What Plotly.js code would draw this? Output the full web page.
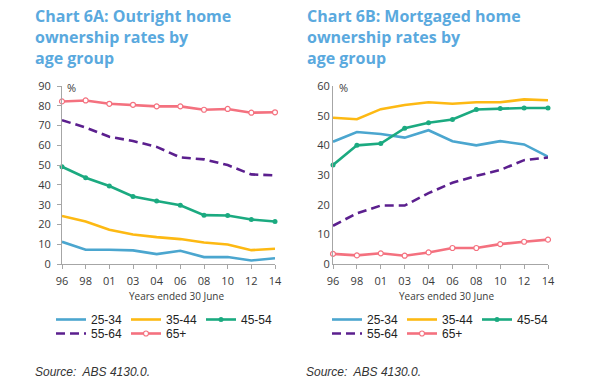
<!DOCTYPE html>
<html><head><meta charset="utf-8">
<script src="https://cdn.plot.ly/plotly-3.0.1.min.js"></script>
<style>html,body{margin:0;padding:0;background:#fff}</style>
</head><body><div id="chart" style="width:600px;height:384px"></div>
<script>
// ---- data ----
const years = ['96','98','01','03','04','06','08','10','12','14'];
const ageGroups = ['25-34','35-44','45-54','55-64','65+'];
// Chart 6A: outright home ownership (%)
const outright_25_34 = [11.2, 7.2, 7.2, 6.9, 5.0, 6.7, 3.5, 3.5, 1.8, 2.9];
const outright_35_44 = [24.3, 21.5, 17.3, 14.9, 13.6, 12.6, 10.9, 9.9, 7.0, 7.7];
const outright_45_54 = [49.2, 43.6, 39.4, 34.1, 31.9, 29.7, 24.7, 24.5, 22.5, 21.5];
const outright_55_64 = [72.7, 69.0, 64.3, 62.2, 59.2, 53.9, 52.9, 50.0, 45.3, 44.8];
const outright_65p   = [82.2, 82.7, 81.0, 80.5, 79.7, 79.7, 78.0, 78.4, 76.5, 76.7];
// Chart 6B: mortgaged home ownership (%)
const mortgaged_25_34 = [41.2, 44.5, 43.8, 42.6, 45.1, 41.4, 40.0, 41.4, 40.3, 36.2];
const mortgaged_35_44 = [49.3, 48.8, 52.2, 53.6, 54.5, 54.0, 54.5, 54.5, 55.5, 55.2];
const mortgaged_45_54 = [33.4, 40.0, 40.6, 45.8, 47.6, 48.7, 52.1, 52.4, 52.6, 52.6];
const mortgaged_55_64 = [12.9, 17.1, 19.7, 19.7, 23.9, 27.4, 29.7, 31.7, 35.0, 35.9];
const mortgaged_65p   = [3.4, 2.9, 3.6, 2.8, 3.9, 5.4, 5.4, 6.7, 7.5, 8.2];
const titleA = 'Chart 6A: Outright home<br>ownership rates by<br>age group';
const titleB = 'Chart 6B: Mortgaged home<br>ownership rates by<br>age group';
const xTitle = 'Years ended 30 June';
const sourceText = 'Source:\u00a0 ABS 4130.0.';

// ---- styles ----
const W = 600, H = 384;
const px = v => v / W, py = v => 1 - v / H;
const styles = [
  {color:'#4BA6CF', dash:'solid', mode:'lines'},
  {color:'#FDB913', dash:'solid', mode:'lines'},
  {color:'#1BAA80', dash:'solid', mode:'lines+markers', marker:{size:5, color:'#1BAA80'}},
  {color:'#5B1F8E', dash:'9px,5px', mode:'lines'},
  {color:'#F4717F', dash:'solid', mode:'lines+markers', marker:{size:5, color:'#ffffff', line:{color:'#F4717F', width:1.2}}}
];
const leftData = [outright_25_34, outright_35_44, outright_45_54, outright_55_64, outright_65p];
const rightData = [mortgaged_25_34, mortgaged_35_44, mortgaged_45_54, mortgaged_55_64, mortgaged_65p];

const traces = [];
function addTraces(data, xa, ya, legA, legB) {
  data.forEach((vals, i) => {
    const s = styles[i];
    const t = {
      x: years, y: vals, name: ageGroups[i], type: 'scatter', mode: s.mode,
      xaxis: xa, yaxis: ya, legend: i < 3 ? legA : legB,
      line: {color: s.color, width: 2.6, dash: s.dash},
      cliponaxis: false, hoverinfo: 'skip'
    };
    if (s.marker) t.marker = s.marker;
    traces.push(t);
  });
}
addTraces(leftData, 'x', 'y', 'legend', 'legend2');
addTraces(rightData, 'x2', 'y2', 'legend3', 'legend4');

const tickFont = {family: 'Open Sans, sans-serif', size: 11, color: '#3a3a3a'};
const xBase = {
  type: 'category', categoryorder: 'array', categoryarray: years, range: [0, 9],
  showline: true, linecolor: '#a6a6a6', linewidth: 1, showgrid: false, zeroline: false,
  ticks: 'outside', ticklen: 4, tickcolor: '#a6a6a6', tickfont: tickFont, fixedrange: true,
  ticklabelstandoff: 3
};
const yBase = {
  showline: true, linecolor: '#a6a6a6', linewidth: 1, showgrid: false, zeroline: false,
  dtick: 10, tickfont: tickFont, fixedrange: true
};
const legBase = {orientation: 'h', entrywidth: 30, entrywidthmode: 'pixels', xanchor: 'left', yanchor: 'top',
  font: {family: 'Liberation Sans, Arial, sans-serif', size: 12, color: '#222'},
  bgcolor: 'rgba(0,0,0,0)', traceorder: 'normal', itemclick: false, itemdoubleclick: false};
const titleFont = {family: 'Open Sans, sans-serif', size: 16, color: '#5AA9DE', weight: 'bold'};
const labelFont = {family: 'Open Sans, sans-serif', size: 10, color: '#3a3a3a'};
const srcFont = {family: 'Liberation Sans, sans-serif', size: 12, color: '#333', style: 'italic'};

const layout = {
  width: W, height: H, autosize: false,
  margin: {l: 0, r: 0, t: 0, b: 0},
  paper_bgcolor: '#fff', plot_bgcolor: 'rgba(0,0,0,0)',
  xaxis: Object.assign({}, xBase, {domain: [px(62), px(275)], anchor: 'y'}),
  yaxis: Object.assign({}, yBase, {domain: [py(264), py(86)], range: [0, 90], anchor: 'x',
    ticks: 'outside', ticklen: 4, tickcolor: '#a6a6a6', ticklabelstandoff: 4}),
  xaxis2: Object.assign({}, xBase, {domain: [px(333), px(548)], anchor: 'y2'}),
  yaxis2: Object.assign({}, yBase, {domain: [py(264), py(86)], range: [0, 60], anchor: 'x2', ticks: ''}),
  legend:  Object.assign({}, legBase, {x: px(51), y: py(305)}),
  legend2: Object.assign({}, legBase, {x: px(51), y: py(319)}),
  legend3: Object.assign({}, legBase, {x: px(327), y: py(305)}),
  legend4: Object.assign({}, legBase, {x: px(327), y: py(319)}),
  showlegend: true,
  annotations: [
    {text: titleA, xref: 'paper', yref: 'paper', x: px(33), y: py(3), xanchor: 'left', yanchor: 'top', align: 'left', showarrow: false, font: titleFont},
    {text: titleB, xref: 'paper', yref: 'paper', x: px(305), y: py(3), xanchor: 'left', yanchor: 'top', align: 'left', showarrow: false, font: titleFont},
    {text: '%', xref: 'paper', yref: 'paper', x: px(65), y: py(88), xanchor: 'left', yanchor: 'middle', showarrow: false, font: tickFont},
    {text: '%', xref: 'paper', yref: 'paper', x: px(337), y: py(88), xanchor: 'left', yanchor: 'middle', showarrow: false, font: tickFont},
    {text: xTitle, xref: 'paper', yref: 'paper', x: px(176), y: py(296), xanchor: 'center', yanchor: 'middle', showarrow: false, font: labelFont},
    {text: xTitle, xref: 'paper', yref: 'paper', x: px(446), y: py(296), xanchor: 'center', yanchor: 'middle', showarrow: false, font: labelFont},
    {text: sourceText, xref: 'paper', yref: 'paper', x: px(33), y: py(372), xanchor: 'left', yanchor: 'middle', showarrow: false, font: srcFont},
    {text: sourceText, xref: 'paper', yref: 'paper', x: px(304), y: py(372), xanchor: 'left', yanchor: 'middle', showarrow: false, font: srcFont}
  ]
};
Plotly.newPlot('chart', traces, layout, {displayModeBar: false, staticPlot: true});
</script></body></html>
